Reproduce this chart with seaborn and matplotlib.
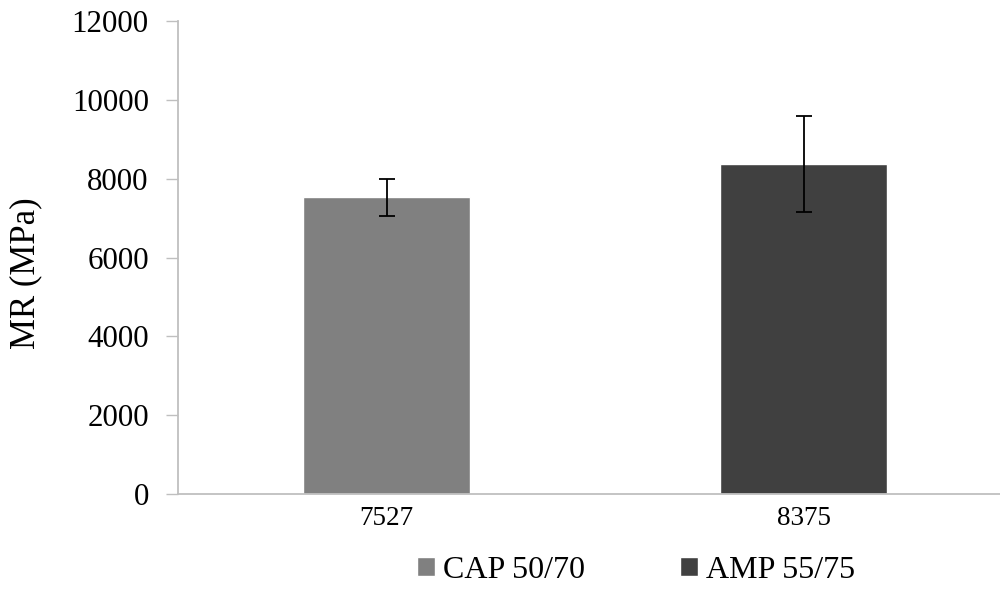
import matplotlib
matplotlib.use("Agg")
import matplotlib.pyplot as plt
import seaborn as sns
import pandas as pd

# Resilient modulus of the two binders
categories = ["7527", "8375"]
series = ["CAP 50/70", "AMP 55/75"]
mr_values = [7527, 8375]
mr_errors = [475, 1220]
y_ticks = [0, 2000, 4000, 6000, 8000, 10000, 12000]

colors = ["#808080", "#404040"]
axis_grey = "#BFBFBF"

sns.set_theme(style="white")
plt.rcParams["font.family"] = ["Liberation Serif", "DejaVu Serif"]
plt.rcParams["text.color"] = "black"

df = pd.DataFrame({"cat": categories, "mix": series, "mr": mr_values})

fig = plt.figure(figsize=(10, 6), dpi=100)
ax = fig.add_axes([0.178, 0.1767, 0.834, 0.788])

sns.barplot(data=df, x="cat", y="mr", hue="mix", palette=colors,
            dodge=False, width=0.4, errorbar=None, ax=ax,
            order=categories, hue_order=series, legend=True, saturation=1)

ax.errorbar(range(len(categories)), mr_values, yerr=mr_errors, fmt="none",
            ecolor="black", elinewidth=1.3, capsize=6, capthick=1.3)

ax.set_xlim(-0.5, len(categories) - 0.5)
ax.set_ylim(0, 12000)
ax.set_yticks(y_ticks)
ax.set_yticklabels([str(t) for t in y_ticks], fontsize=22.3, color="black")
for lbl in ax.get_xticklabels():
    lbl.set_color("black")
ax.tick_params(axis="x", labelsize=19.5, length=0, pad=9)
ax.tick_params(axis="y", left=True, length=9, width=1, color=axis_grey, pad=12)
ax.set_xlabel("")
ax.set_ylabel("MR (MPa)", fontsize=25, color="black")
ax.yaxis.set_label_coords(-0.163, 0.467)

for side in ["top", "right"]:
    ax.spines[side].set_visible(False)
for side in ["left", "bottom"]:
    ax.spines[side].set_color(axis_grey)
    ax.spines[side].set_linewidth(1.3)

handles, labels = ax.get_legend_handles_labels()
ax.get_legend().remove()
fig.legend(handles, labels, loc="center", bbox_to_anchor=(0.636, 0.05),
           ncol=2, frameon=False, fontsize=23, handlelength=0.55,
           handleheight=0.55, handletextpad=0.25, columnspacing=3.0,
           labelcolor="black")

fig.savefig("out.png", dpi=100)
